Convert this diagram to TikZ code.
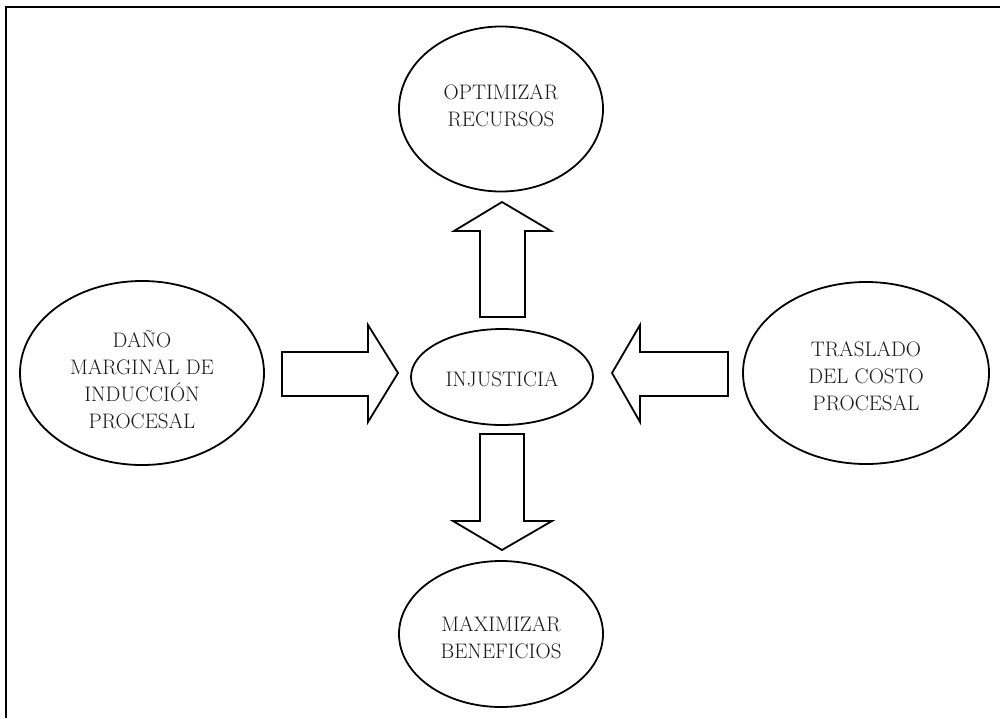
\documentclass[tikz,border=0pt]{standalone}
\usetikzlibrary{shapes.geometric}
\begin{document}
\begin{tikzpicture}[x=1pt,y=-1pt,
  oval/.style={draw, ellipse, line width=1.8pt, inner sep=0pt},
  lbl/.style={align=center, font=\fontsize{21}{27}\selectfont, inner sep=0pt, text=black!90},
  blockarrow/.style={draw, line width=1.8pt, line join=miter, fill=white}]
\useasboundingbox (0,0) rectangle (1000,718);
% frame (top and left only)
\coordinate (ftl) at (6,7);
\coordinate (ftr) at (1000,7);
\coordinate (fbl) at (6,718);
\draw[line width=1.8pt] (fbl) -- (ftl) -- (ftr);
% ellipses
\node[oval, minimum width=204pt, minimum height=165pt] (top) at (501,109) {};
\node[oval, minimum width=244pt, minimum height=184pt] (left) at (142,373) {};
\node[oval, minimum width=246pt, minimum height=182pt] (right) at (866,373) {};
\node[oval, minimum width=204pt, minimum height=146pt] (bottom) at (501,634) {};
\node[oval, minimum width=182pt, minimum height=96pt] (center) at (502,377) {};
% labels
\node[lbl] (ttop) at (501,106) {OPTIMIZAR\\RECURSOS};
\node[lbl] (tleft) at (142,380) {DAÑO\\MARGINAL DE\\INDUCCIÓN\\PROCESAL};
\node[lbl] (tright) at (866,376) {TRASLADO\\DEL COSTO\\PROCESAL};
\node[lbl] (tbottom) at (501,638) {MAXIMIZAR\\BENEFICIOS};
\node[lbl] (tcenter) at (502,379) {INJUSTICIA};
% block arrows
\draw[blockarrow] (480,317) -- (480,231) -- (454,231) -- (502,202) -- (551,231) -- (525,231) -- (525,317) -- cycle;
\draw[blockarrow] (282,352) -- (368,352) -- (368,325) -- (398,373) -- (368,422) -- (368,396) -- (282,396) -- cycle;
\draw[blockarrow] (728,352) -- (640,352) -- (640,325) -- (612,373) -- (640,422) -- (640,396) -- (728,396) -- cycle;
\draw[blockarrow] (480,434) -- (480,521) -- (453,521) -- (502,550) -- (552,521) -- (524,521) -- (524,434) -- cycle;
\end{tikzpicture}
\end{document}
